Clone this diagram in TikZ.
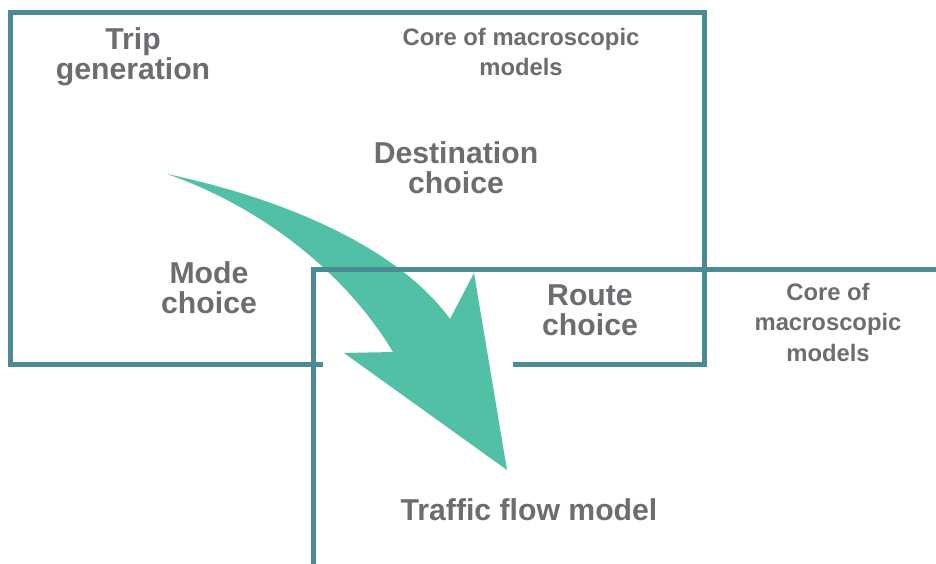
\documentclass[tikz,border=0pt]{standalone}
\usepackage{fontspec}
\setmainfont{Liberation Sans}
\definecolor{frame}{HTML}{4A8B94}
\definecolor{flow}{HTML}{52C0A6}
\definecolor{txt}{HTML}{6D6D71}
\begin{document}
\begin{tikzpicture}[x=1pt,y=-1pt,
  big/.style={font=\fontsize{30.2}{30}\selectfont\bfseries, text=txt, align=center, inner sep=0pt},
  small/.style={font=\fontsize{23.8}{30.5}\selectfont\bfseries, text=txt, align=center, inner sep=0pt},
  frameline/.style={draw=frame, line width=5pt}]
\useasboundingbox (0,0) rectangle (936,563);
% curved flow arrow
\coordinate (tail) at (167,174);
\coordinate (rn) at (450,319);
\coordinate (rb) at (474,273);
\coordinate (tip) at (507,470);
\coordinate (lb) at (344,353);
\coordinate (ln) at (393,352);
\fill[flow] (tail) .. controls (290,200) and (400,250) .. (rn) -- (rb) -- (tip) -- (lb) -- (ln)
  .. controls (350,280) and (270,210) .. (tail) -- cycle;
% frames
\coordinate (a1) at (323,364);
\coordinate (a2) at (10,364);
\coordinate (a3) at (10,12);
\coordinate (a4) at (704,12);
\coordinate (a5) at (704,364);
\coordinate (a6) at (513,364);
\draw[frameline] (a1) -- (a2) -- (a3) -- (a4) -- (a5) -- (a6);
\coordinate (b1) at (313,575);
\coordinate (b2) at (313,269);
\coordinate (b3) at (950,269);
\draw[frameline] (b1) -- (b2) -- (b3);
% labels
\node[big] (trip) at (133,57) {Trip\\generation};
\node[small] (core1) at (521,52) {Core of macroscopic\\models};
\node[big] (dest) at (456,168) {Destination\\choice};
\node[big] (mode) at (209,288) {Mode\\choice};
\node[big] (route) at (590,310) {Route\\choice};
\node[small] (core2) at (828,322) {Core of\\macroscopic\\models};
\node[big] (tfm) at (529,510) {Traffic flow model};
\end{tikzpicture}
\end{document}
